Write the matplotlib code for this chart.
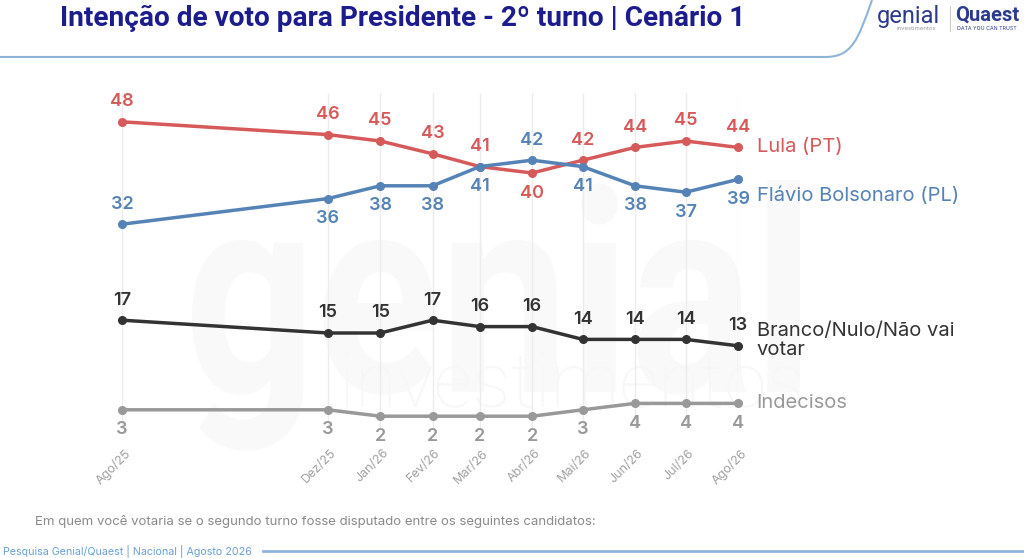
import matplotlib
matplotlib.use("Agg")
import matplotlib.pyplot as plt
from matplotlib.path import Path
from matplotlib.patches import PathPatch
from matplotlib.textpath import TextPath
from matplotlib.font_manager import FontProperties
from matplotlib.transforms import Affine2D, IdentityTransform, ScaledTranslation
import pandas as pd

plt.rcParams['font.family'] = ['Inter', 'DejaVu Sans']

# --- data ---
dates = pd.to_datetime(["2025-08-01", "2025-12-01", "2026-01-01", "2026-02-01",
                        "2026-03-01", "2026-04-01", "2026-05-01", "2026-06-01",
                        "2026-07-01", "2026-08-01"])
tick_labels = ["Ago/25", "Dez/25", "Jan/26", "Fev/26", "Mar/26",
               "Abr/26", "Mai/26", "Jun/26", "Jul/26", "Ago/26"]
lula = [48, 46, 45, 43, 41, 40, 42, 44, 45, 44]
flavio = [32, 36, 38, 38, 41, 42, 41, 38, 37, 39]
branco = [17, 15, 15, 17, 16, 16, 14, 14, 14, 13]
indecisos = [3, 3, 2, 2, 2, 2, 3, 4, 4, 4]

# +1 label above the point, -1 below
lula_side = [1, 1, 1, 1, 1, -1, 1, 1, 1, 1]
flavio_side = [1, -1, -1, -1, -1, 1, -1, -1, -1, -1]
branco_side = [1] * 10
indecisos_side = [-1] * 10

W, H = 1024, 558
fig = plt.figure(figsize=(W / 100, H / 100), dpi=100)
fig.patch.set_facecolor("white")


def fx(px):
    return px / W


def fy(py):
    return 1 - py / H


def watermark(text, weight, x0, x1, top, base, color):
    # text fitted into a pixel box, drawn behind the chart
    tp = TextPath((0, 0), text, size=100, prop=FontProperties(family="Roboto", weight=weight))
    ext = tp.get_extents()
    sx = (x1 - x0) / ext.width
    sy = (base - top) / ext.y1
    tr = Affine2D().scale(sx, sy).translate(x0 - ext.x0 * sx, H - base)
    patch = PathPatch(tr.transform_path(tp), facecolor=color, edgecolor="none",
                      transform=IdentityTransform(), zorder=0)
    fig.add_artist(patch)


watermark("genial", "bold", 192, 800, 180, 392, "#f9f9f9")
watermark("investimentos", "light", 345, 800, 352, 407, "#f7f7f7")

ax = fig.add_axes([fx(122), fy(429), fx(738) - fx(122), (429 - 93) / H])
ax.set_zorder(2)
ax.patch.set_alpha(0)
ax.set_xlim(dates[0], dates[-1])
ax.set_ylim(0, 52.5)
for s in ax.spines.values():
    s.set_visible(False)
ax.set_yticks([])
ax.set_xticks(dates)
ax.set_xticklabels(tick_labels, rotation=45, ha="right", rotation_mode="anchor",
                   fontsize=9, color="#a0a0a0")
ax.tick_params(axis="x", length=0, pad=13)
shift = ScaledTranslation(1.5 / 72, 0, fig.dpi_scale_trans)
for lab in ax.get_xticklabels():
    lab.set_transform(lab.get_transform() + shift)
ax.grid(axis="x", color="#ececec", linewidth=1)

series = [
    (lula, lula_side, "#d65a5a", "Lula (PT)", 0),
    (flavio, flavio_side, "#5583b6", "Flávio Bolsonaro (PL)", -16),
    (branco, branco_side, "#333333", "Branco/Nulo/Não vai\nvotar", 5),
    (indecisos, indecisos_side, "#999999", "Indecisos", 0),
]

for vals, sides, color, name, name_dy in series:
    ax.plot(dates, vals, color=color, linewidth=2.5, marker="o", markersize=5.5,
            zorder=3, clip_on=False)
    for d, v, s in zip(dates, vals, sides):
        ax.annotate(str(v), (d, v), xytext=(0, 14.5 * s), textcoords="offset points",
                    ha="center", va="center", fontsize=13, fontweight="semibold",
                    color=color, annotation_clip=False)
    ax.annotate(name, (dates[-1], vals[-1]), xytext=(13.5, name_dy * 0.72),
                textcoords="offset points", ha="left", va="center",
                fontsize=14.5, color=color, linespacing=1.05, annotation_clip=False)

# title
fig.text(fx(60), fy(18), "Intenção de voto para Presidente - 2º turno | Cenário 1",
         fontsize=20.2, fontweight="bold", color="#1c1c8c", ha="left", va="center",
         family=["Roboto", "DejaVu Sans"])

# header line curving up to the logo
verts = [(0, 57), (825, 57), (852, 57), (858, 40), (872, 0)]
codes = [Path.MOVETO, Path.LINETO, Path.CURVE4, Path.CURVE4, Path.CURVE4]
path = Path([(fx(x), fy(y)) for x, y in verts], codes)
fig.add_artist(PathPatch(path, facecolor="none", edgecolor="#8fb4da", linewidth=1.5,
                         transform=fig.transFigure))

# logo
fig.text(fx(877), fy(16), "genial", fontsize=17, color="#2b3a8c", ha="left",
         va="center", family=["Roboto", "DejaVu Sans"])
fig.text(fx(897), fy(29), "investimentos", fontsize=4.3, color="#9a9a9a", ha="left",
         va="center")
fig.add_artist(plt.Line2D([fx(950), fx(950)], [fy(6), fy(31)], color="#cccccc",
                          linewidth=0.8, transform=fig.transFigure))
fig.text(fx(955), fy(15), "Quaest", fontsize=14.5, fontweight="bold", color="#2b3a8c",
         ha="left", va="center", family=["Roboto", "DejaVu Sans"])
fig.text(fx(957), fy(29), "DATA YOU CAN TRUST", fontsize=3.8, color="#2b3a8c",
         ha="left", va="center")

# footer
fig.text(fx(35), fy(521), "Em quem você votaria se o segundo turno fosse disputado "
         "entre os seguintes candidatos:", fontsize=9.5, color="#8a8a8a",
         ha="left", va="center")
fig.text(fx(3), fy(551), "Pesquisa Genial/Quaest | Nacional | Agosto 2026",
         fontsize=7.7, color="#6b9fd1", ha="left", va="center")
fig.add_artist(plt.Line2D([fx(263), fx(1024)], [fy(551), fy(551)], color="#8fb4da",
                          linewidth=2, transform=fig.transFigure))

fig.savefig("out.png", dpi=100)
